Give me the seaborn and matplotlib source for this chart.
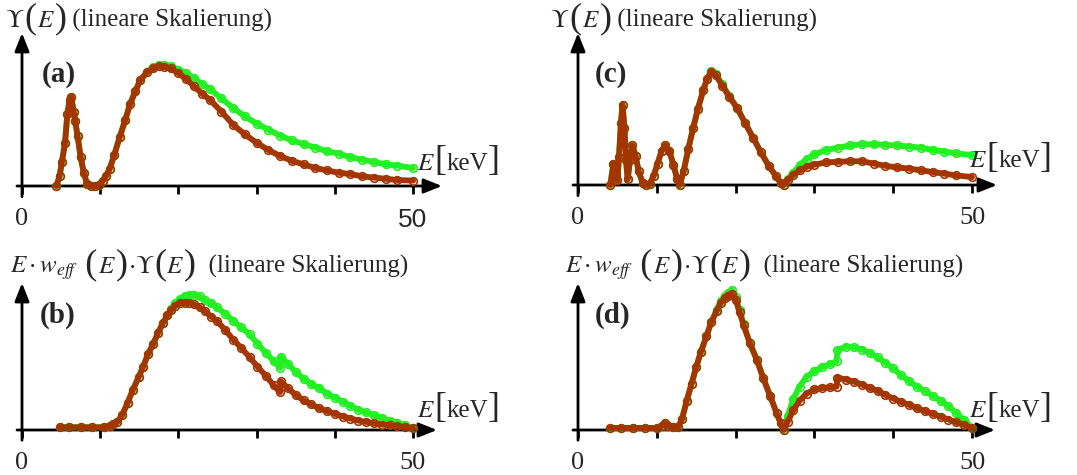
import numpy as np
import pandas as pd
import seaborn as sns
import matplotlib
matplotlib.use("Agg")
import matplotlib.pyplot as plt

sns.set_theme(style="white")
plt.rcParams["font.family"] = ["Liberation Serif", "DejaVu Serif"]
plt.rcParams["mathtext.fontset"] = "stix"

# ---------------- spectra (energy in keV, linear arbitrary units) ----------------
# (a) Upsilon(E), first filter set
e_a = [4.4, 4.8, 5.1, 5.5, 5.8, 6.1, 6.3, 6.6, 6.8, 7.1, 7.5, 7.9, 8.3, 8.8, 9.3, 9.8,
       10.3, 10.7, 11.2, 11.8, 12.5, 13.2, 13.8, 14.5, 15.1, 16.0, 16.8, 17.5, 18.2, 19.0,
       20.0, 21.0, 22.0, 23.0, 24.0, 25.5, 27.0, 28.5, 30.0, 31.5, 33.0, 34.5, 36.0, 37.5,
       39.0, 40.5, 42.0, 43.5, 45.0, 46.5, 48.0, 50.0]
green_a = [0.00, 0.08, 0.20, 0.36, 0.60, 0.72, 0.74, 0.62, 0.54, 0.42, 0.24, 0.11, 0.02, 0.00, 0.00, 0.01,
           0.04, 0.08, 0.14, 0.26, 0.41, 0.55, 0.68, 0.79, 0.88, 0.95, 0.99, 1.01, 1.01, 1.00,
           0.97, 0.94, 0.90, 0.85, 0.81, 0.73, 0.65, 0.58, 0.52, 0.47, 0.42, 0.38, 0.35, 0.32,
           0.29, 0.27, 0.24, 0.22, 0.20, 0.18, 0.17, 0.15]
brown_a = [0.00, 0.08, 0.20, 0.36, 0.60, 0.72, 0.74, 0.62, 0.54, 0.42, 0.24, 0.11, 0.02, 0.00, 0.00, 0.01,
           0.04, 0.08, 0.14, 0.26, 0.41, 0.55, 0.68, 0.79, 0.88, 0.95, 0.98, 1.00, 0.99, 0.98,
           0.94, 0.89, 0.83, 0.77, 0.72, 0.62, 0.51, 0.43, 0.36, 0.30, 0.25, 0.21, 0.18, 0.15,
           0.13, 0.11, 0.10, 0.08, 0.07, 0.06, 0.05, 0.045]

# (c) Upsilon(E), second filter set
e_c = [4.1, 4.5, 4.8, 5.0, 5.2, 5.45, 5.65, 5.9, 6.1, 6.3, 6.6, 6.9, 7.3, 7.7, 8.2, 8.6,
       9.1, 9.6, 10.1, 10.6, 11.1, 11.6, 12.1, 12.6, 12.9, 13.4, 14.0, 14.6, 15.2, 15.9,
       16.4, 16.9, 17.5, 18.3, 19.2, 20.2, 21.2, 22.2, 23.2, 24.2, 25.1, 25.7, 26.1, 26.6,
       27.3, 28.2, 29.0, 30.0, 31.5, 33.0, 34.5, 36.0, 37.5, 39.0, 40.5, 42.0, 43.5, 45.0,
       46.5, 48.0, 50.0]
green_c = [0.00, 0.19, 0.08, 0.04, 0.25, 0.55, 0.71, 0.50, 0.22, 0.05, 0.22, 0.35, 0.26, 0.12, 0.02, 0.00,
           0.01, 0.08, 0.19, 0.30, 0.35, 0.30, 0.18, 0.05, 0.00, 0.12, 0.32, 0.50, 0.67, 0.84,
           0.94, 1.01, 0.98, 0.89, 0.79, 0.68, 0.55, 0.42, 0.29, 0.17, 0.08, 0.02, 0.00, 0.05,
           0.11, 0.18, 0.23, 0.27, 0.31, 0.33, 0.35, 0.36, 0.36, 0.355, 0.35, 0.34, 0.33, 0.31,
           0.295, 0.28, 0.265]
brown_c = [0.00, 0.19, 0.08, 0.04, 0.25, 0.55, 0.71, 0.50, 0.22, 0.05, 0.22, 0.35, 0.26, 0.12, 0.02, 0.00,
           0.01, 0.08, 0.19, 0.30, 0.35, 0.30, 0.18, 0.05, 0.00, 0.12, 0.32, 0.50, 0.67, 0.84,
           0.94, 1.00, 0.97, 0.88, 0.78, 0.68, 0.55, 0.42, 0.29, 0.17, 0.08, 0.02, 0.00, 0.04,
           0.09, 0.13, 0.16, 0.18, 0.20, 0.205, 0.21, 0.21, 0.19, 0.17, 0.155, 0.145, 0.13, 0.115,
           0.10, 0.085, 0.07]

# (b) E * w_eff(E) * Upsilon(E), first filter set
e_b = [4.8, 6.0, 7.5, 9.0, 10.5, 11.3, 11.7, 12.2, 12.8, 13.5, 14.2, 14.9, 15.5, 16.1, 16.8,
       17.4, 18.0, 18.6, 19.1, 19.6, 20.2, 20.8, 21.4, 22.0, 22.7, 23.4, 24.2, 24.9, 26.0,
       27.0, 28.0, 29.1, 30.1, 31.2, 32.2, 33.0, 33.1, 34.0, 35.0, 36.0, 37.0, 38.0, 39.0,
       40.0, 41.0, 42.0, 43.0, 44.0, 45.0, 46.0, 47.0, 48.0, 49.0, 50.0]
green_b = [0.02, 0.02, 0.02, 0.02, 0.02, 0.03, 0.045, 0.06, 0.11, 0.20, 0.30, 0.39, 0.47, 0.56, 0.64,
           0.72, 0.79, 0.85, 0.90, 0.94, 0.97, 0.99, 1.00, 1.00, 0.99, 0.96, 0.94, 0.91, 0.86,
           0.81, 0.76, 0.71, 0.64, 0.57, 0.51, 0.46, 0.54, 0.49, 0.43, 0.38, 0.34, 0.31, 0.27,
           0.24, 0.21, 0.18, 0.15, 0.13, 0.11, 0.09, 0.07, 0.055, 0.035, 0.015]
brown_b = [0.02, 0.02, 0.02, 0.02, 0.02, 0.03, 0.045, 0.06, 0.11, 0.20, 0.30, 0.39, 0.47, 0.56, 0.64,
           0.72, 0.79, 0.85, 0.89, 0.92, 0.94, 0.94, 0.94, 0.93, 0.91, 0.88, 0.84, 0.81, 0.74,
           0.67, 0.61, 0.54, 0.47, 0.40, 0.33, 0.28, 0.36, 0.31, 0.26, 0.22, 0.19, 0.16, 0.14,
           0.12, 0.10, 0.085, 0.07, 0.06, 0.05, 0.04, 0.035, 0.03, 0.02, 0.015]

# (d) E * w_eff(E) * Upsilon(E), second filter set
e_d = [4.0, 5.5, 7.0, 8.5, 10.0, 10.6, 11.0, 11.4, 12.0, 12.7, 13.2, 13.8, 14.4, 15.0, 15.6,
       16.3, 16.9, 17.6, 18.1, 18.6, 19.0, 19.5, 20.0, 20.5, 21.0, 21.8, 22.7, 23.5, 24.4,
       25.2, 25.7, 26.1, 26.6, 27.3, 28.1, 29.0, 30.0, 31.0, 32.0, 32.8, 32.9, 34.0, 35.0,
       36.0, 37.0, 38.0, 39.0, 40.0, 41.0, 42.0, 43.0, 44.0, 45.0, 46.0, 47.0, 48.0, 49.0, 50.0]
green_d = [0.015, 0.015, 0.015, 0.015, 0.015, 0.03, 0.05, 0.03, 0.02, 0.02, 0.08, 0.21, 0.33, 0.45, 0.56,
           0.67, 0.77, 0.86, 0.92, 0.96, 0.98, 1.00, 0.95, 0.86, 0.76, 0.62, 0.50, 0.37, 0.24,
           0.12, 0.05, 0.00, 0.10, 0.22, 0.31, 0.38, 0.42, 0.45, 0.47, 0.49, 0.57, 0.595, 0.59,
           0.575, 0.55, 0.52, 0.48, 0.44, 0.39, 0.35, 0.31, 0.28, 0.245, 0.21, 0.17, 0.12, 0.07, 0.015]
brown_d = [0.015, 0.015, 0.015, 0.015, 0.015, 0.03, 0.05, 0.03, 0.02, 0.02, 0.08, 0.21, 0.33, 0.45, 0.56,
           0.67, 0.77, 0.85, 0.91, 0.94, 0.96, 0.97, 0.93, 0.84, 0.75, 0.62, 0.50, 0.37, 0.24,
           0.12, 0.05, 0.00, 0.06, 0.14, 0.21, 0.26, 0.29, 0.30, 0.305, 0.31, 0.375, 0.36, 0.345,
           0.325, 0.30, 0.28, 0.25, 0.225, 0.20, 0.18, 0.155, 0.135, 0.115, 0.095, 0.075, 0.055, 0.035, 0.015]

tick_values = [0, 10, 20, 30, 40, 50]
tick_labels = ["0", "", "", "", "", "50"]

# Rich labels as (text, size) runs; delimiters are set larger than the letters.
BIG = 26
title_upsilon = [(r"$\Upsilon$", 18), ("(", BIG), (r"$E$", 18), (")", BIG),
                 (" (lineare Skalierung)", 18)]
title_weighted = [(r"$E\cdot w_{eff}$", 18), ("\u2009(", BIG), (r"$E$", 18), (")", BIG),
                  (r"$\cdot\Upsilon$", 18), ("(", BIG), (r"$E$", 18), (")", BIG),
                  ("  (lineare Skalierung)", 18)]
energy_label = [(r"$E$", 18), ("[", BIG), ("keV", 18), ("]", BIG)]

GREEN = "#22f022"
BROWN = "#a33500"

W, H = 1077, 475
fig = plt.figure(figsize=(W / 100, H / 100), dpi=100)
fig.patch.set_facecolor("white")
renderer = fig.canvas.get_renderer()


def runs(pieces, x_px, y_px, align="left"):
    """Write text runs on a common baseline, starting (or ending) at x_px."""
    arts, widths = [], []
    for s, size in pieces:
        t = fig.text(0, (H - y_px) / H, s, fontsize=size, ha="left", va="baseline")
        widths.append(t.get_window_extent(renderer).width)
        arts.append(t)
    x = x_px - sum(widths) if align == "right" else x_px
    for t, w in zip(arts, widths):
        t.set_x(x / W)
        x += w


def px_rect(x0, y0, x1, y1):
    """Axes rectangle from pixel corners (origin top-left)."""
    return [x0 / W, (H - y0) / H, (x1 - x0) / W, (y0 - y1) / H]


def panel(rect, xmax, ymax, e, g, b, tag, tag_xy, title, title_xy, elabel_xy, sans_50=False):
    ax = fig.add_axes(rect)
    ax.set_facecolor("none")
    df = pd.DataFrame({"E": e, "green": g, "brown": b})
    for col, c in (("green", GREEN), ("brown", BROWN)):
        sns.lineplot(data=df, x="E", y=col, ax=ax, color=c, lw=4.2, estimator=None,
                     sort=False, marker="o", ms=5.5, mfc="none", mec=c, mew=1.2)
    for ln in ax.lines:
        ln.set_clip_on(False)
    ax.set_xlim(0, xmax)
    ax.set_ylim(0, ymax)
    for s in ax.spines.values():
        s.set_visible(False)
    ax.set_xlabel("")
    ax.set_ylabel("")
    ax.set_yticks([])
    ax.set_xticks(tick_values)
    ax.set_xticklabels(tick_labels, fontsize=19)
    ax.tick_params(axis="x", length=6, width=2, direction="out", pad=10, color="black",
                   bottom=True)
    if sans_50:
        ax.get_xticklabels()[-1].set_fontfamily("Liberation Sans")
    hw = dict(arrowstyle="-|>,head_length=0.55,head_width=0.22", lw=2, color="black",
              mutation_scale=20, shrinkA=0, shrinkB=0)
    ax.annotate("", xy=(1, 0), xytext=(-0.012, 0), xycoords="axes fraction",
                arrowprops=hw, zorder=1)
    ax.annotate("", xy=(0, 1), xytext=(0, -0.07), xycoords="axes fraction",
                arrowprops=hw, zorder=1)
    fig.text(tag_xy[0] / W, (H - tag_xy[1]) / H, tag, fontsize=21, fontweight="bold",
             ha="left", va="center")
    runs(title, title_xy[0], title_xy[1])
    runs(energy_label, elabel_xy[0], elabel_xy[1], align="right")
    return ax


panel(px_rect(22, 186, 442, 33), 53.7, 1.275, e_a, green_a, brown_a,
      "(a)", (42, 74), title_upsilon, (5, 27), (500, 170), sans_50=True)
panel(px_rect(578, 185, 997, 33), 53.17, 1.345, e_c, green_c, brown_c,
      "(c)", (595, 74), title_upsilon, (550, 27), (1052, 167))
panel(px_rect(22, 430, 437, 283), 53.07, 1.089, e_b, green_b, brown_b,
      "(b)", (40, 315), title_weighted, (10, 273), (500, 417))
panel(px_rect(578, 430, 995, 283), 52.9, 1.05, e_d, green_d, brown_d,
      "(d)", (595, 315), title_weighted, (565, 273), (1052, 417))

fig.savefig("out.png", dpi=100, facecolor="white")
